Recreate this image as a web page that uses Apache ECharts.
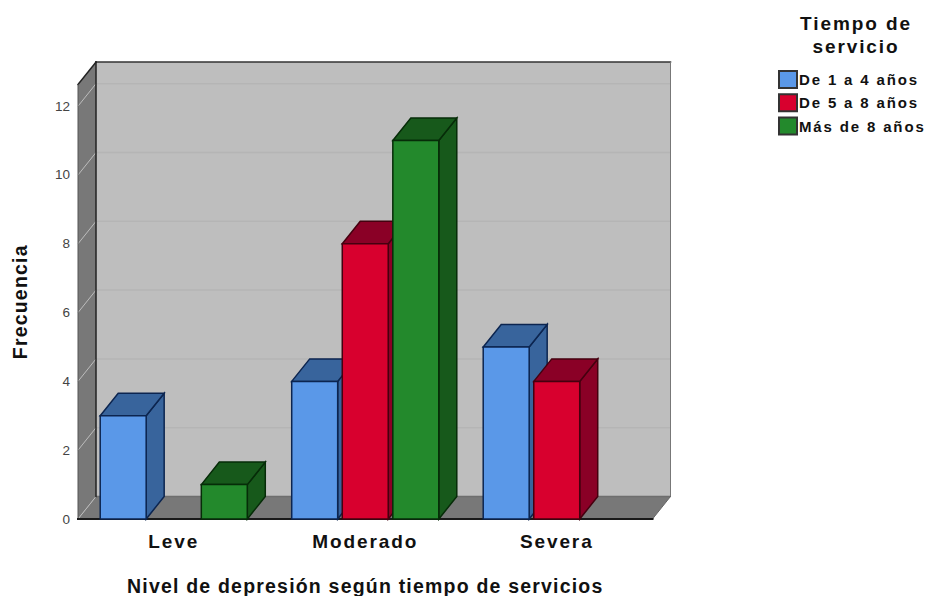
<!DOCTYPE html>
<html>
<head>
<meta charset="utf-8">
<style>
html,body{margin:0;padding:0;background:#fff}
#c{width:927px;height:596px}
svg text{letter-spacing:0}
svg text[style*="19px"]{letter-spacing:1.9px}
svg text[style*="19.5px"]{letter-spacing:1.2px}
svg text[style*="15px"]{letter-spacing:1.85px}
</style>
<script src="https://cdn.jsdelivr.net/npm/echarts@6/dist/echarts.min.js"></script>
</head>
<body>
<div id="c"></div>
<script>
// Frequency of depression levels by length of service
const categories = ['Leve', 'Moderado', 'Severa'];
const serviceGroups = ['De 1 a 4 años', 'De 5 a 8 años', 'Más de 8 años'];
const oneToFour = [3, 4, 5];
const fiveToEight = [null, 8, 4];
const overEight = [1, 11, null];
const yTicks = [0, 2, 4, 6, 8, 10, 12];

// Oblique projection of the box, in pixels
const DEPTH_X = 18, DEPTH_Y = -22.5;
const BAR_RATIO = 0.24, PITCH_RATIO = 0.264;
const Y_MAX = 12.63;

const faces = [
  { front: '#5a98e8', side: '#38649c', top: '#38649c', edge: '#0c2550' },
  { front: '#d8002e', side: '#8a0026', top: '#8a0026', edge: '#45000f' },
  { front: '#23892c', side: '#17591b', top: '#17591b', edge: '#062c08' }
];

function poly(points, fill, stroke, lineWidth) {
  return { type: 'polygon', shape: { points }, style: { fill, stroke, lineWidth } };
}

// Back wall, left wall, floor and the gridlines running across them
function renderBox(params, api) {
  const cs = params.coordSys;
  const x0 = cs.x, x1 = cs.x + cs.width;
  const y0 = api.coord([0, 0])[1], yTop = api.coord([0, Y_MAX])[1];
  const kids = [
    poly([[x0 + DEPTH_X, yTop + DEPTH_Y], [x1 + DEPTH_X, yTop + DEPTH_Y], [x1 + DEPTH_X, y0 + DEPTH_Y], [x0 + DEPTH_X, y0 + DEPTH_Y]], '#bebebe', null, 0),
    poly([[x0, yTop], [x0 + DEPTH_X, yTop + DEPTH_Y], [x0 + DEPTH_X, y0 + DEPTH_Y], [x0, y0]], '#787878', null, 0),
    poly([[x0, y0], [x0 + DEPTH_X, y0 + DEPTH_Y], [x1 + DEPTH_X, y0 + DEPTH_Y], [x1, y0]], '#787878', null, 0)
  ];
  yTicks.forEach(t => {
    const y = api.coord([0, t])[1];
    kids.push({ type: 'line', shape: { x1: x0 + DEPTH_X, y1: y + DEPTH_Y, x2: x1 + DEPTH_X, y2: y + DEPTH_Y }, style: { stroke: t === 0 ? '#6e6e6e' : '#b5b5b5', lineWidth: 1.5 } });
    kids.push({ type: 'line', shape: { x1: x0, y1: y, x2: x0 + DEPTH_X, y2: y + DEPTH_Y }, style: { stroke: '#bdbdbd', lineWidth: 1 } });
  });
  const seg = (a, b, c, d, col, w) => kids.push({ type: 'line', shape: { x1: a, y1: b, x2: c, y2: d }, style: { stroke: col, lineWidth: w, lineCap: 'square' } });
  seg(x0 + DEPTH_X, yTop + DEPTH_Y, x1 + DEPTH_X, yTop + DEPTH_Y, '#333', 1.5);
  seg(x0 + DEPTH_X, yTop + DEPTH_Y, x0 + DEPTH_X, y0 + DEPTH_Y, '#222', 1.5);
  seg(x0, yTop, x0 + DEPTH_X, yTop + DEPTH_Y, '#222', 1.5);
  seg(x0, yTop, x0, y0, '#555', 1);
  seg(x1 + DEPTH_X, yTop + DEPTH_Y, x1 + DEPTH_X, y0 + DEPTH_Y, '#777', 1);
  seg(x1, y0, x1 + DEPTH_X, y0 + DEPTH_Y, '#666', 1);
  seg(x0, y0, x1, y0, '#1a1a1a', 2);
  return { type: 'group', children: kids };
}

// One cuboid per value: side and top faces first, front face over them
function barRenderer(slot) {
  return function (params, api) {
    const v = api.value(1);
    if (v == null || isNaN(v)) return null;
    const base = api.coord([api.value(0), 0]);
    const head = api.coord([api.value(0), v]);
    const band = api.size([1, 0])[0];
    const cx = base[0] + (slot - 1) * band * PITCH_RATIO;
    const w = band * BAR_RATIO;
    const l = cx - w / 2, r = cx + w / 2, t = head[1], b = base[1];
    const f = faces[slot];
    return {
      type: 'group',
      children: [
        poly([[r, t], [r + DEPTH_X, t + DEPTH_Y], [r + DEPTH_X, b + DEPTH_Y], [r, b]], f.side, f.edge, 1.5),
        poly([[l, t], [l + DEPTH_X, t + DEPTH_Y], [r + DEPTH_X, t + DEPTH_Y], [r, t]], f.top, f.edge, 1.5),
        poly([[l, t], [r, t], [r, b], [l, b]], f.front, f.edge, 1.5)
      ]
    };
  };
}

function barSeries(name, values, slot) {
  return {
    name,
    type: 'custom',
    renderItem: barRenderer(slot),
    encode: { x: 0, y: 1 },
    data: values.map((v, i) => [i, v]),
    itemStyle: { color: faces[slot].front, borderColor: '#333', borderWidth: 1 },
    z: 3 + slot
  };
}

const chart = echarts.init(document.getElementById('c'), null, { renderer: 'svg' });
chart.setOption({
  animation: false,
  backgroundColor: '#fff',
  textStyle: { fontFamily: 'Liberation Sans' },
  title: {
    text: 'Tiempo de\nservicio',
    left: 851, top: 7, textAlign: 'center',
    textStyle: { fontSize: 19, fontWeight: 'bold', color: '#111', lineHeight: 23, fontFamily: 'Liberation Sans' }
  },
  legend: {
    orient: 'vertical',
    left: 778, top: 70,
    itemWidth: 18, itemHeight: 17, itemGap: 4.3, padding: 0,
    icon: 'rect',
    data: serviceGroups,
    selectedMode: false,
    textStyle: { fontSize: 15, fontWeight: 'bold', color: '#111', height: 17, lineHeight: 17, padding: [0, 0, 0, -3] }
  },
  grid: { left: 78, top: 84.5, width: 574.5, height: 434.5, outerBoundsMode: 'none' },
  xAxis: {
    type: 'category',
    data: categories,
    name: 'Nivel de depresión según tiempo de servicios',
    nameLocation: 'middle',
    nameGap: 57,
    nameTextStyle: { fontSize: 19.5, fontWeight: 'bold', color: '#111' },
    axisLine: { show: false },
    axisTick: { show: false },
    axisLabel: { fontSize: 19, fontWeight: 'bold', color: '#111', margin: 13 }
  },
  yAxis: {
    type: 'value',
    min: 0, max: Y_MAX, interval: 2,
    name: 'Frecuencia',
    nameLocation: 'middle',
    nameGap: 48,
    nameTextStyle: { fontSize: 19.5, fontWeight: 'bold', color: '#111' },
    axisLine: { show: false },
    axisTick: { show: false },
    splitLine: { show: false },
    axisLabel: { fontSize: 13.5, color: '#444', margin: 8, showMaxLabel: false }
  },
  series: [
    { type: 'custom', silent: true, renderItem: renderBox, encode: { x: 0, y: 1 }, data: [[0, 0]], z: 1 },
    barSeries(serviceGroups[0], oneToFour, 0),
    barSeries(serviceGroups[1], fiveToEight, 1),
    barSeries(serviceGroups[2], overEight, 2)
  ]
});
</script>
</body>
</html>
